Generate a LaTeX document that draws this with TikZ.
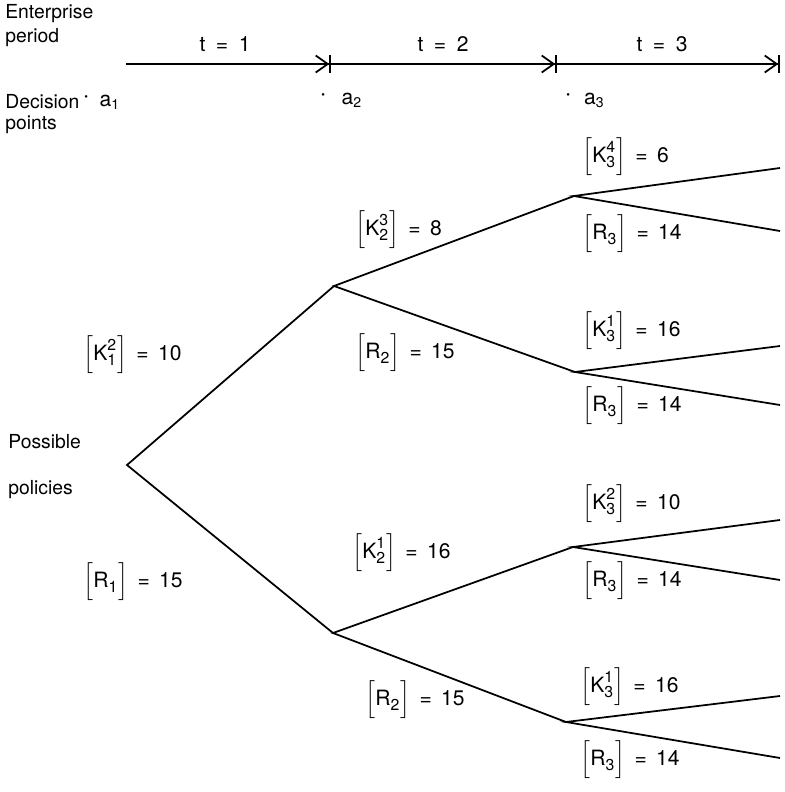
\documentclass[tikz,border=0pt]{standalone}
\usepackage{amsmath}
\usepackage{fontspec}
\setmainfont{TeX Gyre Heros}
\usetikzlibrary{arrows.meta,positioning}
\newcommand{\scr}[1]{\text{\fontsize{9}{9}\selectfont #1}}
\newcommand{\bval}[3]{$\left[\text{#1}^{\scr{\vphantom{2}#2}}_{\scr{#3}}\right]$}
\newcommand{\dpdot}{\raisebox{0.5ex}{\fontsize{6}{6}\selectfont\textbullet}}
\tikzset{
  branchline/.style={line width=1pt},
  periodarrow/.style={line width=1pt,
    -{Straight Barb[length=2.4mm,width=3.4mm,line width=1pt]Bar[width=3.6mm,line width=1pt]}},
  sidelabel/.style={anchor=west,inner sep=0pt,font=\fontsize{11}{13}\selectfont},
  valuelabel/.style={anchor=west,inner sep=0pt,font=\fontsize{12}{14}\selectfont},
  periodlabel/.style={inner sep=0pt,font=\fontsize{12}{14}\selectfont},
  pointlabel/.style={anchor=west,inner sep=0pt,font=\fontsize{12}{14}\selectfont}
}

\begin{document}
\begin{tikzpicture}[x=0.02cm,y=-0.02cm]
  \useasboundingbox (0,0) rectangle (785,792);
  % time axis
  \coordinate (t0) at (126,64);
  \coordinate (t1) at (331,64);
  \coordinate (t2) at (557,64);
  \coordinate (t3) at (780,64);
  \draw[periodarrow] (t0) -- (t1);
  \draw[periodarrow] (t1) -- (t2);
  \draw[periodarrow] (t2) -- (t3);
  \node[periodlabel] (per1) at (225,44) {t\enspace=\enspace1};
  \node[periodlabel] (per2) at (443,44) {t\enspace=\enspace2};
  \node[periodlabel] (per3) at (662,44) {t\enspace=\enspace3};
  \node[sidelabel] (enterprise) at (5,14) {Enterprise};
  \node[sidelabel,below=0.48cm of enterprise.west,anchor=west] (period) {period};
  \node[sidelabel] (decision) at (5,102) {Decision};
  \node[sidelabel,below=0.46cm of decision.west,anchor=west] (points) {points};
  \node[pointlabel] (a1) at (84,102) {\dpdot\hspace{2.3mm}a\textsubscript{1}};
  \node[pointlabel] (a2) at (321,100) {\dpdot\hspace{3.3mm}a\textsubscript{2}};
  \node[pointlabel] (a3) at (566,100) {\dpdot\hspace{2.8mm}a\textsubscript{3}};
  % decision tree
  \coordinate (root) at (127,465);
  \coordinate (n2a) at (334,286);
  \coordinate (n2b) at (333,633);
  \coordinate (n3a) at (574,196);
  \coordinate (n3b) at (575,372);
  \coordinate (n3c) at (573,547);
  \coordinate (n3d) at (566,722);
  \coordinate (e1) at (780,168);
  \coordinate (e2) at (780,231);
  \coordinate (e3) at (780,346);
  \coordinate (e4) at (780,405);
  \coordinate (e5) at (780,520);
  \coordinate (e6) at (780,580);
  \coordinate (e7) at (780,696);
  \coordinate (e8) at (780,758);
  \draw[branchline] (n2a) -- (root) -- (n2b);
  \draw[branchline] (n3a) -- (n2a) -- (n3b);
  \draw[branchline] (n3c) -- (n2b) -- (n3d);
  \draw[branchline] (e1) -- (n3a) -- (e2);
  \draw[branchline] (e3) -- (n3b) -- (e4);
  \draw[branchline] (e5) -- (n3c) -- (e6);
  \draw[branchline] (e7) -- (n3d) -- (e8);
  \node[sidelabel] (possible) at (8,442) {Possible};
  \node[sidelabel,below=0.96cm of possible.west,anchor=west] (policies) {policies};
  % values
  \node[valuelabel] (k1) at (83,355) {\bval{K}{2}{1}\,\ =\ \,10};
  \node[valuelabel] (r1) at (83,582) {\bval{R}{}{1}\,\ =\ \,15};
  \node[valuelabel] (k2a) at (355,230) {\bval{K}{3}{2}\,\ =\ \,8};
  \node[valuelabel] (r2a) at (355,353) {\bval{R}{}{2}\,\ =\ \,15};
  \node[valuelabel] (k2b) at (352,553) {\bval{K}{1}{2}\,\ =\ \,16};
  \node[valuelabel] (r2b) at (365,700) {\bval{R}{}{2}\,\ =\ \,15};
  \node[valuelabel] (k3a) at (582,157) {\bval{K}{4}{3}\,\ =\ \,6};
  \node[valuelabel] (r3a) at (582,234) {\bval{R}{}{3}\,\ =\ \,14};
  \node[valuelabel] (k3b) at (582,331) {\bval{K}{1}{3}\,\ =\ \,16};
  \node[valuelabel] (r3b) at (582,406) {\bval{R}{}{3}\,\ =\ \,14};
  \node[valuelabel] (k3c) at (582,504) {\bval{K}{2}{3}\,\ =\ \,10};
  \node[valuelabel] (r3c) at (582,581) {\bval{R}{}{3}\,\ =\ \,14};
  \node[valuelabel] (k3d) at (580,687) {\bval{K}{1}{3}\,\ =\ \,16};
  \node[valuelabel] (r3d) at (580,760) {\bval{R}{}{3}\,\ =\ \,14};
\end{tikzpicture}
\end{document}
